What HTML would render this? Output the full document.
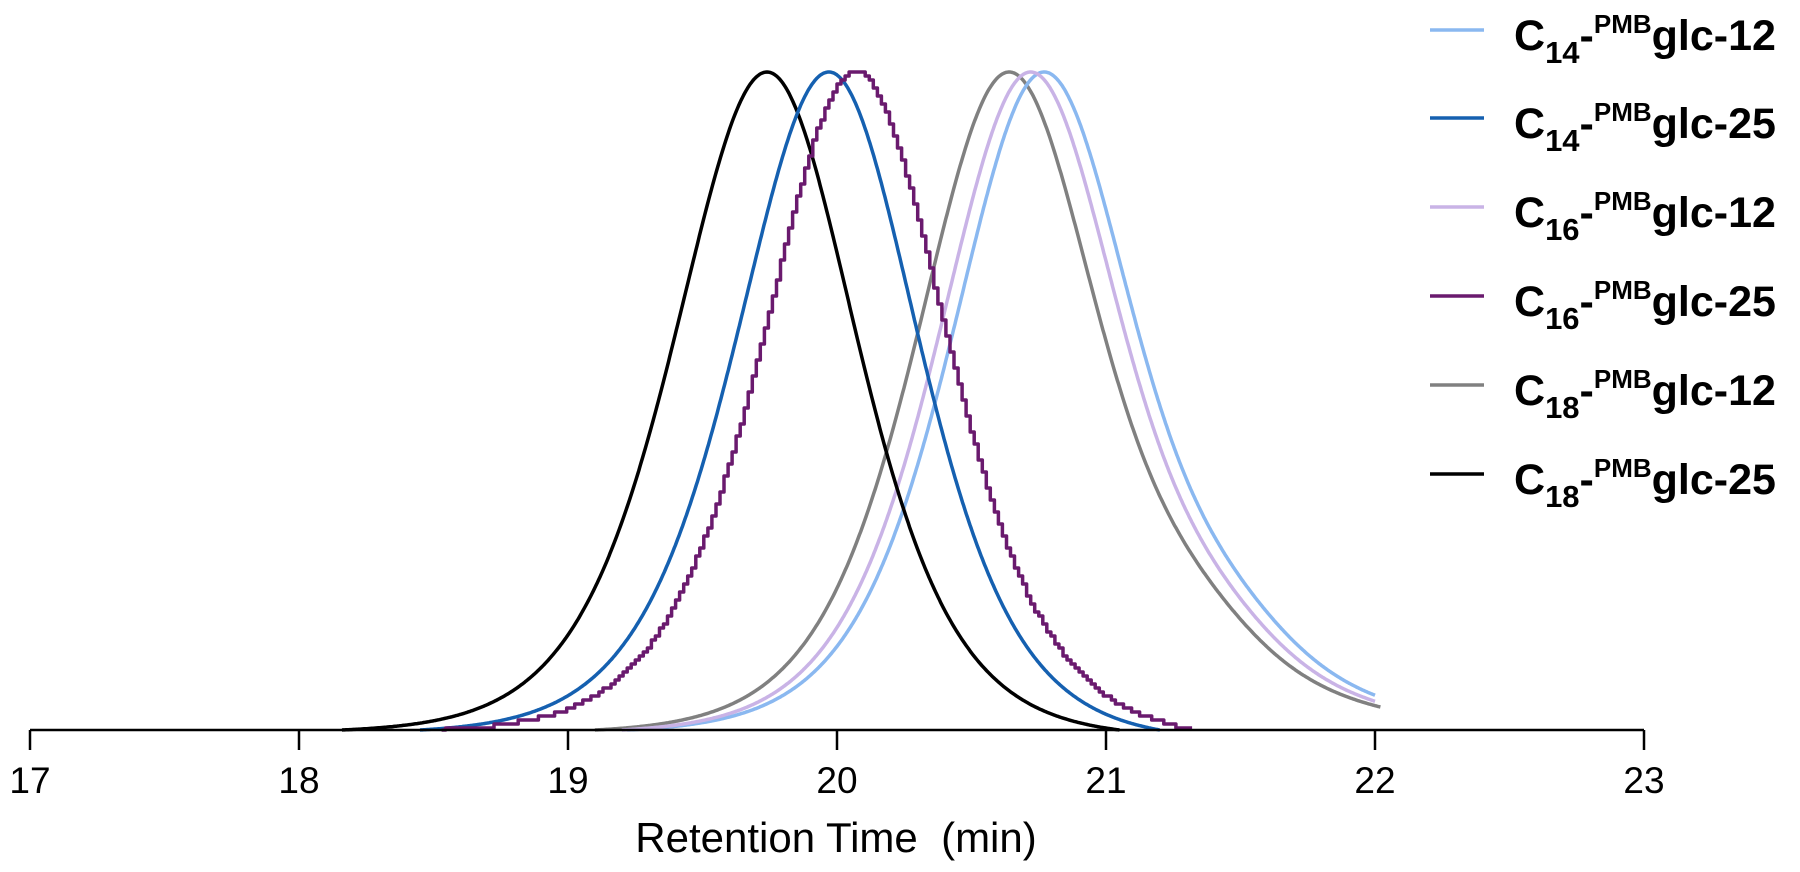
<!DOCTYPE html>
<html><head><meta charset="utf-8"><style>
html,body{margin:0;padding:0;background:#fff;}
svg{display:block;font-family:"Liberation Sans",Arial,sans-serif;}
.lg{font-weight:bold;font-size:43px;fill:#000;}
</style></head><body>
<svg id="s" width="1800" height="872" viewBox="0 0 1800 872" xmlns="http://www.w3.org/2000/svg">
<g id="curves" fill="none" stroke-width="3.5" stroke-linejoin="round"></g>
<line x1="30" y1="730" x2="1644" y2="730" stroke="#000" stroke-width="2.5"/>
<g stroke="#000" stroke-width="2.5">
<line x1="30" y1="730" x2="30" y2="750"/><line x1="299" y1="730" x2="299" y2="750"/><line x1="568" y1="730" x2="568" y2="750"/><line x1="837" y1="730" x2="837" y2="750"/><line x1="1106" y1="730" x2="1106" y2="750"/><line x1="1375" y1="730" x2="1375" y2="750"/><line x1="1644" y1="730" x2="1644" y2="750"/>
</g>
<g font-size="37" text-anchor="middle" fill="#000">
<text x="30" y="793">17</text><text x="299" y="793">18</text><text x="568" y="793">19</text><text x="837" y="793">20</text><text x="1106" y="793">21</text><text x="1375" y="793">22</text><text x="1644" y="793">23</text>
</g>
<text x="836" y="852" font-size="42" text-anchor="middle" fill="#000" xml:space="preserve">Retention Time  (min)</text>
<g id="legend"></g>
</svg>
<script>
var X=function(t){return 30+(t-17)*269;};
var base=730,H=658;
var series=[
 {c:"#8ab8f0",mu:20.77,wl:0.46,wr:0.46,t0:19.22,t1:22.0,tail:0.09},
 {c:"#1560b0",mu:19.97,wl:0.46,wr:0.45,t0:18.45,t1:21.2,tail:0},
 {c:"#c9b3e6",mu:20.72,wl:0.46,wr:0.46,t0:19.2,t1:22.0,tail:0.085},
 {c:"#6a1a6e",mu:20.065,wl:0.46,wr:0.46,t0:18.53,t1:21.33,tail:0,step:1},
 {c:"#808080",mu:20.64,wl:0.46,wr:0.46,t0:19.1,t1:22.02,tail:0.095},
 {c:"#000000",mu:19.74,wl:0.46,wr:0.45,t0:18.16,t1:21.05,tail:0}
];
function sech2(x){var c=2/(Math.exp(x)+Math.exp(-x));return c*c;}
function f(s,t){var d=t-s.mu;var v;
 if(d<0){var e=sech2((s.t0-s.mu)/s.wl);v=(sech2(d/s.wl)-e)/(1-e);}
 else{
  if(s.tail){v=sech2(d/s.wr)+s.tail*Math.exp(-(d-0.82)/0.42)*(1-Math.exp(-Math.pow(d/0.7,4)));}
  else{var e2=sech2((s.t1-s.mu)/s.wr);v=(sech2(d/s.wr)-e2)/(1-e2);}
 }
 return Math.max(0,v);}
var g=document.getElementById('curves');var ns="http://www.w3.org/2000/svg";
var order=[4,0,2,5,1,3];
order.forEach(function(i){var s=series[i];var pts=[];
 if(s.step){
  var dt=0.015,py=null;
  for(var t=s.t0;t<=s.t1+1e-9;t+=dt){var y=base-H*f(s,t);y=Math.round(y/4)*4;y=Math.min(base,y);
   var x=X(t);
   if(py!==null)pts.push(x.toFixed(1)+","+py.toFixed(1));
   pts.push(x.toFixed(1)+","+y.toFixed(1));py=y;}
 } else {
  var n=600;
  for(var k=0;k<=n;k++){var t=s.t0+(s.t1-s.t0)*k/n;var y=base-H*f(s,t);
   pts.push(X(t).toFixed(1)+","+Math.min(base,y).toFixed(1));}
 }
 var p=document.createElementNS(ns,"polyline");p.setAttribute("points",pts.join(" "));p.setAttribute("stroke",s.c);g.appendChild(p);});
var lg=document.getElementById('legend');
var labs=[["14","12"],["14","25"],["16","12"],["16","25"],["18","12"],["18","25"]];
var ys=[30,118,207,296,385,474];
var html="";
labs.forEach(function(l,i){var y=ys[i];
 html+='<line x1="1430" y1="'+y+'" x2="1484" y2="'+y+'" stroke="'+series[i].c+'" stroke-width="3.5"/>';
 html+='<text class="lg" x="1514" y="'+(y+20)+'">C<tspan font-size="31" dy="13">'+l[0]+'</tspan><tspan dy="-13">-</tspan><tspan font-size="26" dy="-17">PMB</tspan><tspan dy="17">glc-'+l[1]+'</tspan></text>';});
lg.innerHTML=html;
</script>
</body></html>
